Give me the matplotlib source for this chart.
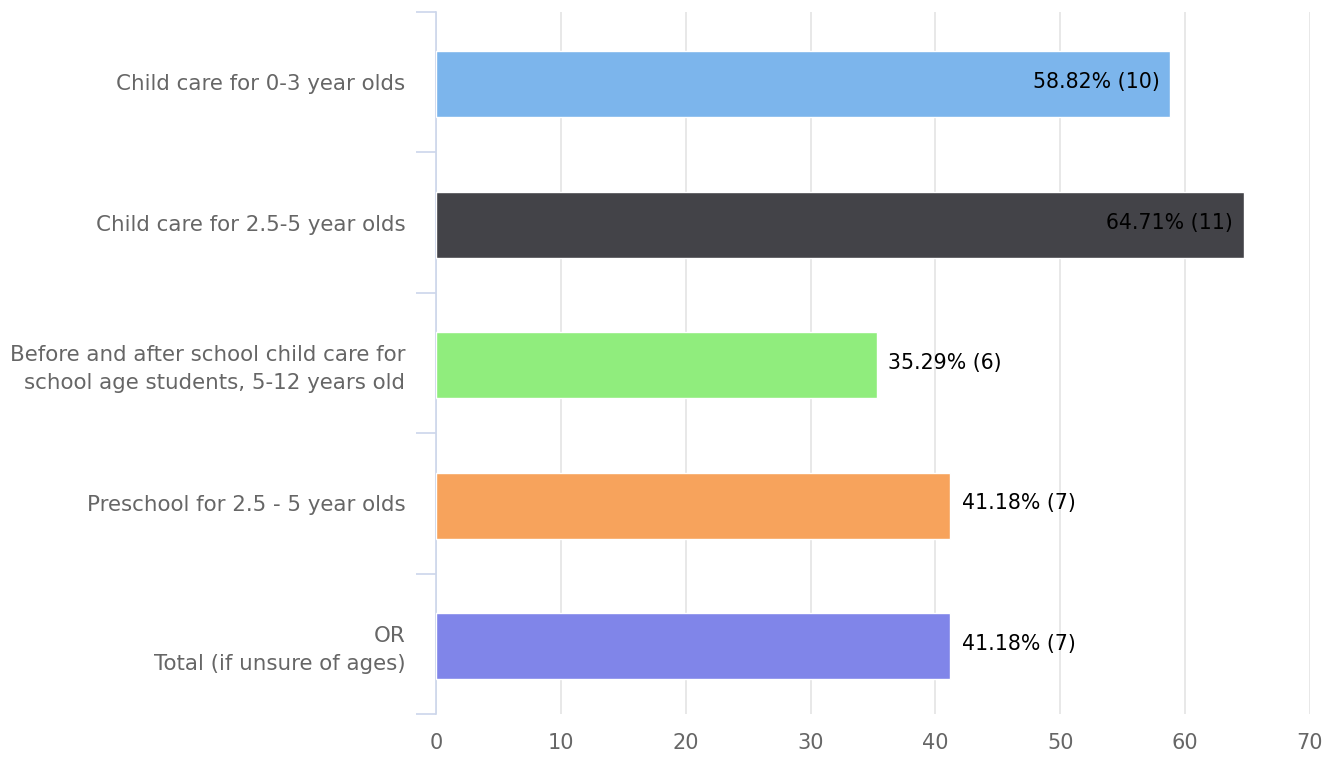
import matplotlib
matplotlib.use("Agg")
import matplotlib.pyplot as plt
import numpy as np

categories = [
    "Child care for 0-3 year olds",
    "Child care for 2.5-5 year olds",
    "Before and after school child care for\nschool age students, 5-12 years old",
    "Preschool for 2.5 - 5 year olds",
    "OR\nTotal (if unsure of ages)",
]
values = [58.82, 64.71, 35.29, 41.18, 41.18]
counts = [10, 11, 6, 7, 7]
colors = ["#7cb5ec", "#434348", "#90ed7d", "#f7a35c", "#8085e9"]
xticks = [0, 10, 20, 30, 40, 50, 60, 70]

plt.rcParams['font.family'] = ['DejaVu Sans']

fig = plt.figure(figsize=(13.25, 7.57), dpi=100)
W, H = 1325, 757
x0, x1 = 436, 1310
y0, y1 = 12, 714
ax = fig.add_axes([x0 / W, 1 - y1 / H, (x1 - x0) / W, (y1 - y0) / H])

y = np.arange(len(categories))
ax.barh(y + 0.015, values, height=0.47, color=colors, edgecolor="white", linewidth=1, zorder=3)
ax.set_xlim(0, 70)
ax.set_ylim(len(categories) - 0.5, -0.5)

for i, (v, c) in enumerate(zip(values, counts)):
    label = f"{v:.2f}% ({c})"
    if v > 50:
        ax.text(v - 0.85, i, label, ha="right", va="center", fontsize=14.8, color="black", zorder=4)
    else:
        ax.text(v + 0.95, i, label, ha="left", va="center", fontsize=14.8, color="black", zorder=4)

ax.set_xticks(xticks)
ax.set_xticklabels([str(t) for t in xticks], fontsize=15, color="#666666")
ax.tick_params(axis="x", length=0, pad=14)
ax.grid(axis="x", color="#e6e6e6", linewidth=1.3, zorder=0)

ax.set_yticks(y)
ax.set_yticklabels(categories, fontsize=15.4, color="#666666", linespacing=1.5)
ax.tick_params(axis="y", length=0, pad=22)
# category boundary ticks
ax.set_yticks(np.arange(-0.5, len(categories) + 0.5, 1), minor=True)
ax.tick_params(axis="y", which="minor", length=14.4, color="#ccd6eb", width=1.2)

for s in ["top", "right", "bottom"]:
    ax.spines[s].set_visible(False)
ax.spines["left"].set_color("#ccd6eb")
ax.spines["left"].set_linewidth(1.2)
ax.set_axisbelow(True)

fig.savefig("out.png", dpi=100)
